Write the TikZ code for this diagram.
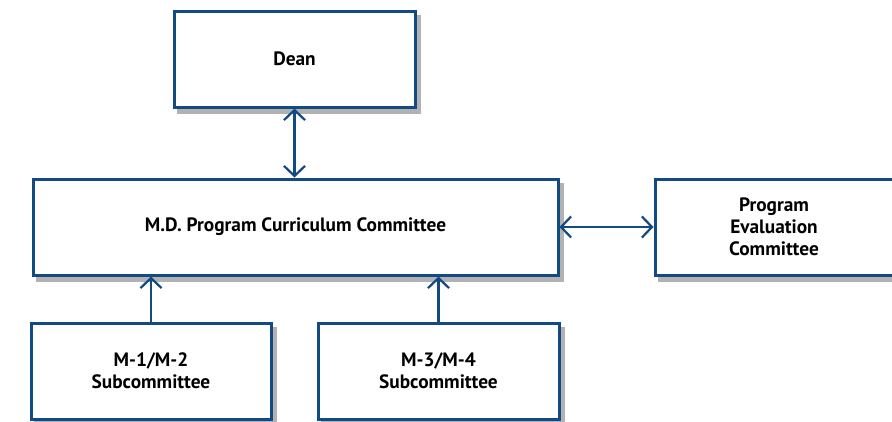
\documentclass[tikz,border=0pt]{standalone}
\usepackage{fontspec}
\setmainfont{PT Sans}
\usetikzlibrary{arrows.meta,backgrounds}
\definecolor{boxblue}{HTML}{134A84}
\begin{document}
\begin{tikzpicture}[
    unit/.style={draw=boxblue, line width=0.06cm, fill=white, inner sep=0pt,
      minimum height=1.92cm, align=center,
      font=\fontsize{11}{12.5}\selectfont\bfseries},
    shade/.style={fill=black!30},
    link/.style={draw=boxblue, line width=0.045cm,
      {Straight Barb[length=2mm,width=4.2mm]}-{Straight Barb[length=2mm,width=4.2mm]}},
    uplink/.style={draw=boxblue, line width=0.045cm, -{Straight Barb[length=2mm,width=4.2mm]}}
]
\useasboundingbox (0,0) rectangle (17.84,-8.42);

\node (dean) at (5.89,-1.18) [unit, minimum width=4.82cm] {Dean};
\node (main) at (5.91,-4.54) [unit, minimum width=10.5cm] {M.D. Program Curriculum Committee};
\node (pec) at (15.48,-4.54) [unit, minimum width=4.76cm] {Program\\Evaluation\\Committee};
\node (m12) at (3.02,-7.42) [unit, minimum width=4.8cm] {M-1/M-2\\Subcommittee};
\node (m34) at (8.77,-7.42) [unit, minimum width=4.82cm] {M-3/M-4\\Subcommittee};

\begin{scope}[on background layer]
\foreach \n in {dean,main,pec,m12,m34}{
  \fill[shade] ([shift={(0.09,-0.11)}]\n.south west) rectangle ([shift={(0.09,-0.11)}]\n.north east);
}
\end{scope}

\draw[link] (dean.south) -- (dean.south |- main.north);
\draw[link] (main.east) -- (pec.west);
\draw[uplink] (m12.north) -- (m12.north |- main.south);
\draw[uplink] (m34.north) -- (m34.north |- main.south);

\end{tikzpicture}
\end{document}
